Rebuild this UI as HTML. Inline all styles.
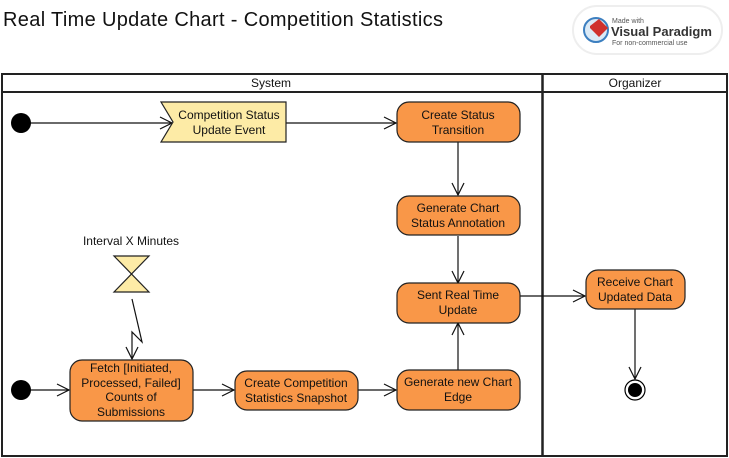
<!DOCTYPE html>
<html><head><meta charset="utf-8"><style>
body{margin:0;background:#fff;}
svg{display:block;font-family:"Liberation Sans",sans-serif;}
</style></head><body>
<svg width="729" height="458" viewBox="0 0 729 458" xmlns="http://www.w3.org/2000/svg">
<text x="3" y="26" font-size="20" textLength="440" fill="#111">Real Time Update Chart - Competition Statistics</text>
<!-- logo -->
<rect x="573" y="6" width="149" height="48" rx="24" fill="#fff" stroke="#eee" stroke-width="2"/>
<circle cx="596" cy="30" r="12" fill="#dbeaf6" stroke="#3c7fc0" stroke-width="2"/>
<path d="M590 26 l9 -7 l9 9 l-9 9 l-9 -9z" fill="#d0312d"/>
<text x="612" y="23" font-size="7" fill="#555">Made with</text>
<text x="611" y="36" font-size="13" font-weight="bold" fill="#333">Visual Paradigm</text>
<text x="612" y="45" font-size="7" fill="#555">For non-commercial use</text>
<!-- frame -->
<g fill="none" stroke="#222">
<rect x="2" y="74" width="725" height="382" stroke-width="2"/>
<line x1="2" y1="92" x2="727" y2="92" stroke-width="2"/>
<line x1="542.5" y1="74" x2="542.5" y2="456" stroke-width="2.5"/>
</g>
<g font-size="12" fill="#111" text-anchor="middle">
<text x="271" y="87">System</text>
<text x="635" y="87">Organizer</text>
</g>
<!-- edges -->
<g stroke="#111" stroke-width="1.2" fill="none">
<line x1="21" y1="123" x2="172" y2="123"/><path d="M160 117 L172 123 L160 129"/>
<line x1="286" y1="123" x2="396" y2="123"/><path d="M384 117 L396 123 L384 129"/>
<line x1="458" y1="142" x2="458" y2="195"/><path d="M452 183 L458 195 L464 183"/>
<line x1="458" y1="236" x2="458" y2="283"/><path d="M452 271 L458 283 L464 271"/>
<line x1="458" y1="370" x2="458" y2="323"/><path d="M452 335 L458 323 L464 335"/>
<line x1="520" y1="296" x2="585" y2="296"/><path d="M573 290 L585 296 L573 302"/>
<line x1="635" y1="309" x2="635" y2="379"/><path d="M629 367 L635 379 L641 367"/>
<line x1="21" y1="390" x2="69" y2="390"/><path d="M57 384 L69 390 L57 396"/>
<line x1="193" y1="390" x2="234" y2="390"/><path d="M222 384 L234 390 L222 396"/>
<line x1="358" y1="390" x2="396" y2="390"/><path d="M384 384 L396 390 L384 396"/>
<path d="M132 299 L142 342 L132 332 L132 359"/><path d="M126 347 L132 359 L138 347"/>
</g>
<!-- initial nodes -->
<circle cx="21" cy="123" r="10" fill="#000"/>
<circle cx="21" cy="390" r="10" fill="#000"/>
<circle cx="635" cy="390" r="10" fill="#fff" stroke="#000" stroke-width="1.2"/>
<circle cx="635" cy="390" r="7" fill="#000"/>
<!-- event flag -->
<path d="M161 102 L286 102 L286 142 L161 142 L173 122 Z" fill="#fdeba6" stroke="#222" stroke-width="1.2"/>
<!-- hourglass -->
<path d="M114 256 L149 256 L114 292 L149 292 Z" fill="#fdeba6" stroke="#222" stroke-width="1.2"/>
<!-- actions -->
<g fill="#f99748" stroke="#222" stroke-width="1.2">
<rect x="397" y="102" width="123" height="40" rx="12"/>
<rect x="397" y="196" width="123" height="39" rx="12"/>
<rect x="397" y="283" width="123" height="40" rx="12"/>
<rect x="397" y="370" width="123" height="40" rx="12"/>
<rect x="70" y="360" width="123" height="61" rx="12"/>
<rect x="235" y="371" width="123" height="39" rx="12"/>
<rect x="586" y="270" width="99" height="39" rx="12"/>
</g>
<g font-size="12" fill="#111" text-anchor="middle">
<text x="229" y="119">Competition Status</text><text x="229" y="134">Update Event</text>
<text x="458" y="119">Create Status</text><text x="458" y="134">Transition</text>
<text x="458" y="212">Generate Chart</text><text x="458" y="227">Status Annotation</text>
<text x="458" y="299">Sent Real Time</text><text x="458" y="314">Update</text>
<text x="458" y="386">Generate new Chart</text><text x="458" y="401">Edge</text>
<text x="131" y="372">Fetch [Initiated,</text><text x="131" y="387">Processed, Failed]</text>
<text x="131" y="401">Counts of</text><text x="131" y="416">Submissions</text>
<text x="296" y="387">Create Competition</text><text x="296" y="402">Statistics Snapshot</text>
<text x="635" y="286">Receive Chart</text><text x="635" y="301">Updated Data</text>
<text x="131" y="245">Interval X Minutes</text>
</g>
</svg>
</body></html>
